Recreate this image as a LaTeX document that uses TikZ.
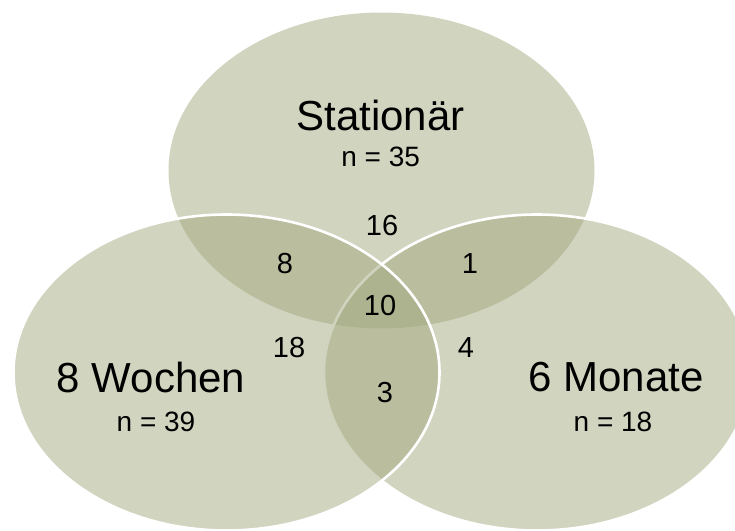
\documentclass[tikz,border=0pt]{standalone}
\usepackage{fontspec}
\setmainfont{Liberation Sans}
\definecolor{venn}{RGB}{163,169,127}
\tikzset{
  x=1pt, y=-1pt,
  setfill/.style={fill=venn, fill opacity=0.5},
  setline/.style={draw=white, line width=2.6pt, draw opacity=1},
  biglabel/.style={font=\fontsize{42}{46}\selectfont, inner sep=0pt},
  nlabel/.style={font=\fontsize{28}{32}\selectfont, inner sep=0pt},
  numlabel/.style={font=\fontsize{29}{33}\selectfont, inner sep=0pt},
}
\begin{document}
\begin{tikzpicture}
\useasboundingbox (0,0) rectangle (735,530);
\begin{scope}
\clip (0,0) rectangle (735,530);
% top set (Stationaer)
\path[setfill] (381.5,170.5) ellipse [x radius=213pt, y radius=158pt];
% right set (6 Monate)
\path[setfill, setline] (537,372.5) ellipse [x radius=213pt, y radius=158pt];
% left set (8 Wochen)
\path[setfill, setline] (226.5,372.5) ellipse [x radius=213pt, y radius=158pt];
\end{scope}
% set labels
\node[biglabel] (sta) at (380.5,115) {Stationär};
\node[nlabel] (nsta) at (380.7,157) {n = 35};
\node[biglabel] (woc) at (151,377) {8 Wochen};
\node[nlabel] (nwoc) at (156,422) {n = 39};
\node[biglabel] (mon) at (616,377) {6 Monate};
\node[nlabel] (nmon) at (613,422) {n = 18};
% region counts
\node[numlabel] (r16) at (382,226) {16};
\node[numlabel] (r8) at (285,264) {8};
\node[numlabel] (r1) at (470,264) {1};
\node[numlabel] (r10) at (380,306) {10};
\node[numlabel] (r18) at (289,348) {18};
\node[numlabel] (r4) at (466,348) {4};
\node[numlabel] (r3) at (385,393) {3};
\end{tikzpicture}
\end{document}
